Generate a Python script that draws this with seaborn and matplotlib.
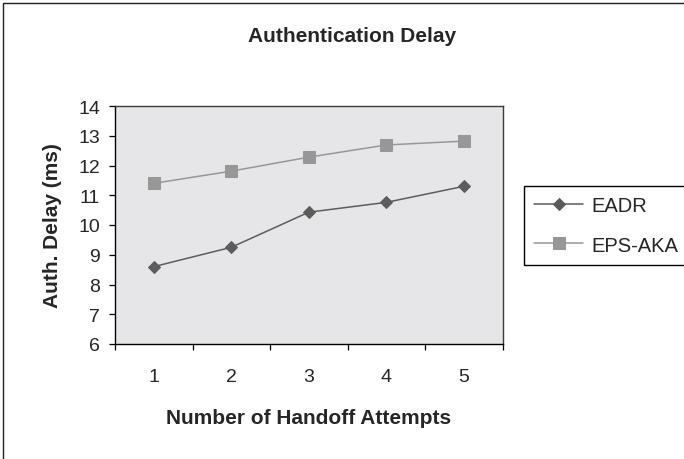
import matplotlib
matplotlib.use("Agg")
import matplotlib.pyplot as plt
from matplotlib.patches import Rectangle
import seaborn as sns
import pandas as pd

# ---- data ----
attempts = [1, 2, 3, 4, 5]
eadr = [8.60, 9.25, 10.43, 10.76, 11.30]
eps_aka = [11.40, 11.81, 12.28, 12.69, 12.82]
series_names = ["EADR", "EPS-AKA"]
y_ticks = [6, 7, 8, 9, 10, 11, 12, 13, 14]
title = "Authentication Delay"
x_label = "Number of Handoff Attempts"
y_label = "Auth. Delay (ms)"

df = pd.DataFrame({
    "attempt": attempts * 2,
    "delay": eadr + eps_aka,
    "series": [series_names[0]] * len(eadr) + [series_names[1]] * len(eps_aka),
})

sns.set_style("white")
plt.rcParams["font.family"] = ["Liberation Sans", "DejaVu Sans"]

W, H = 684, 460
fig = plt.figure(figsize=(W / 100, H / 100), dpi=100)
fig.patch.set_facecolor("white")

# axes placement in pixels
L, R, T, B = 115, 502.5, 107, 345
ax = fig.add_axes([L / W, 1 - B / H, (R - L) / W, (B - T) / H])
ax.set_facecolor("#e6e6e8")

styles = {
    "EADR": dict(color="#5c5c5c", marker="D", markersize=6.6),
    "EPS-AKA": dict(color="#979797", marker="s", markersize=8.0),
}
for name in series_names:
    sub = df[df["series"] == name]
    st = styles[name]
    sns.lineplot(data=sub, x="attempt", y="delay", ax=ax, label=name,
                 color=st["color"], marker=st["marker"],
                 markersize=st["markersize"], markeredgecolor=st["color"],
                 markerfacecolor=st["color"], linewidth=1.1)

ax.set_xlim(0.5, 5.5)
ax.set_ylim(6, 14)
ax.set_yticks(y_ticks)
ax.set_yticklabels([str(v) for v in y_ticks])
ax.set_xticks([a - 0.5 for a in attempts] + [attempts[-1] + 0.5])
ax.set_xticklabels([])
ax.set_xticks(attempts, labels=[str(a) for a in attempts], minor=True)

ax.tick_params(axis="y", which="major", direction="out", length=4.3, width=0.9,
               color="black", pad=6.5, labelsize=14, left=True)
ax.tick_params(axis="x", which="major", direction="out", length=4.3, width=0.9,
               color="black", bottom=True)
ax.tick_params(axis="x", which="minor", length=0, pad=17, labelsize=14,
               bottom=True)

for side in ["left", "bottom"]:
    ax.spines[side].set_color("black")
    ax.spines[side].set_linewidth(1.0)
for side in ["top", "right"]:
    ax.spines[side].set_color("#3a3a3a")
    ax.spines[side].set_linewidth(1.0)
    ax.spines[side].set_visible(True)

ax.set_xlabel(x_label, fontsize=15, fontweight="bold")
ax.set_ylabel(y_label, fontsize=15, fontweight="bold")
ax.xaxis.label.set_va("center")
ax.xaxis.set_label_coords(0.5, (B - 418.7) / (B - T))
ax.yaxis.label.set_va("center")
ax.yaxis.set_label_coords((52.7 - L) / (R - L), 0.5)

fig.text(352 / W, 1 - 37 / H, title, ha="center", va="center",
         fontsize=15, fontweight="bold")

leg = ax.legend(loc="upper left", bbox_to_anchor=(524 / W, 1 - 187.3 / H),
                bbox_transform=fig.transFigure, fontsize=14.5, frameon=True,
                fancybox=False, edgecolor="black", framealpha=1,
                borderpad=0.5, handlelength=2.45, handletextpad=0.38,
                labelspacing=1.0, borderaxespad=0)
leg.get_frame().set_linewidth(1.0)

fig.add_artist(Rectangle((3 / W, -0.2), 2.0, 1.2 - 4 / H, fill=False,
                         edgecolor="#222222", linewidth=1.0,
                         transform=fig.transFigure))

fig.savefig("out.png", dpi=100)
